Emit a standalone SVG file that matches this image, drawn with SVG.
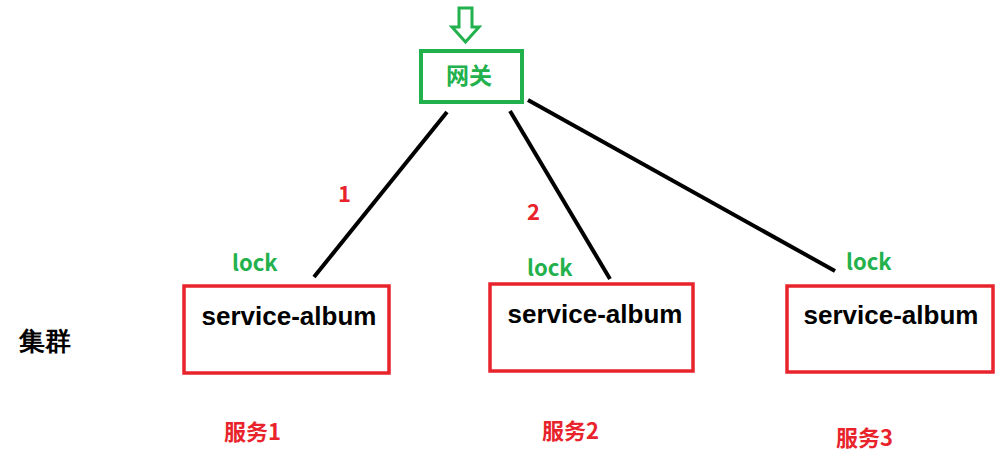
<svg xmlns="http://www.w3.org/2000/svg" width="1000" height="466" viewBox="0 0 1000 466">
<style>
.box{fill:none;stroke:#e8232b;stroke-width:3.5}
.t{font-family:"Liberation Sans",Arial,sans-serif;font-weight:bold;font-size:26px;fill:#000}
.g{font-family:"Noto Sans CJK SC","Liberation Sans",sans-serif;font-weight:bold;fill:#22b14c}
.r{font-family:"Noto Sans CJK SC","Liberation Sans",sans-serif;font-weight:bold;fill:#e8232b}
.c{stroke:#000;stroke-width:4}
</style>
<rect width="1000" height="466" fill="#fff"/>
<g id="entry"><path d="M459,8 H472 V27 H479 L465.5,42 L452,27 H459 Z" fill="none" stroke="#22b14c" stroke-width="3"/></g>
<g id="gateway"><rect x="421" y="51" width="101" height="51" fill="none" stroke="#22b14c" stroke-width="4"/><text x="469" y="84" class="g" font-size="23" text-anchor="middle">网关</text></g>
<g id="connectors">
<line class="c" x1="447" y1="112" x2="314" y2="277"/>
<line class="c" x1="510" y1="111" x2="610" y2="279"/>
<line class="c" x1="528" y1="100" x2="835" y2="271"/>
</g>
<g id="s1"><rect class="box" x="184" y="286" width="205" height="87"/><text class="t" x="289" y="325" text-anchor="middle">service-album</text></g>
<g id="s2"><rect class="box" x="490" y="284" width="203" height="87"/><text class="t" x="595" y="323" text-anchor="middle">service-album</text></g>
<g id="s3"><rect class="box" x="787" y="286" width="206" height="86"/><text class="t" x="891" y="324" text-anchor="middle">service-album</text></g>
<text class="g" x="232" y="271" font-size="22">lock</text>
<text class="g" x="527" y="276" font-size="22">lock</text>
<text class="g" x="846" y="270" font-size="22">lock</text>
<text class="r" x="338" y="202" font-size="22">1</text>
<text class="r" x="527" y="220" font-size="22">2</text>
<text class="t" x="19" y="350" font-size="22" font-family="Noto Sans CJK SC,sans-serif">集群</text>
<text class="r" x="224" y="440" font-size="22">服务1</text>
<text class="r" x="542" y="439" font-size="22">服务2</text>
<text class="r" x="836" y="446" font-size="22">服务3</text>
</svg>
